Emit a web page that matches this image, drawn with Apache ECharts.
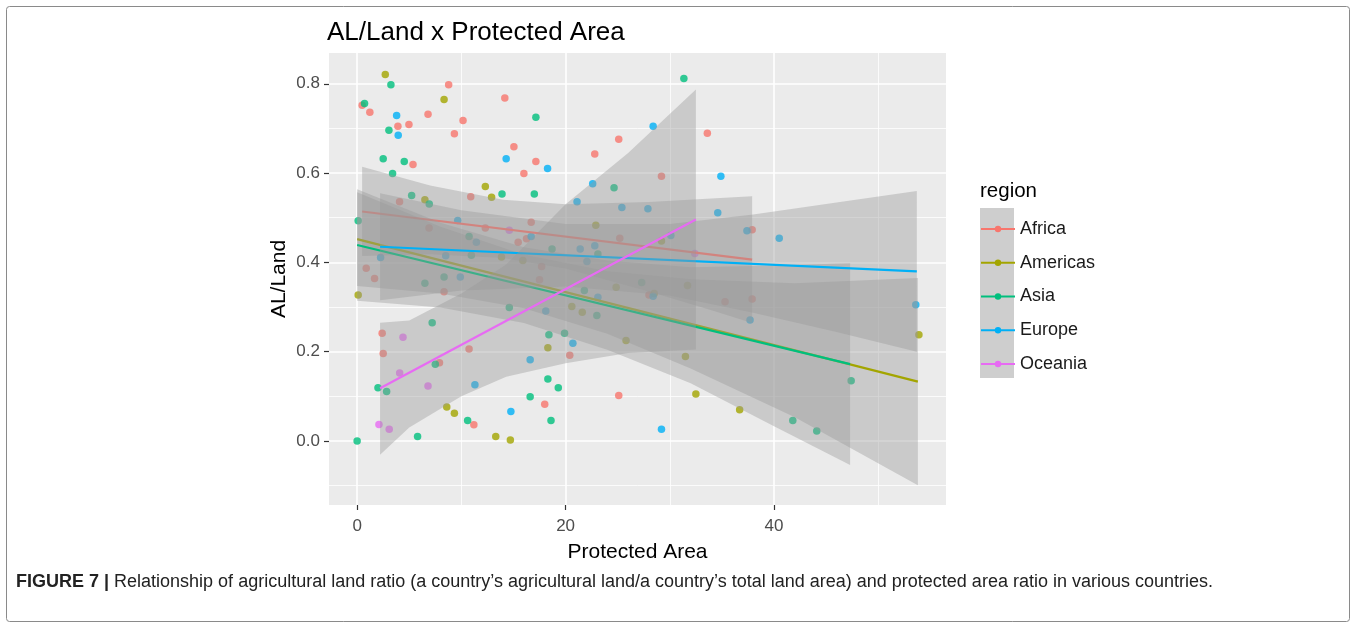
<!DOCTYPE html>
<html>
<head>
<meta charset="utf-8">
<script src="https://cdn.jsdelivr.net/npm/echarts@6/dist/echarts.min.js"></script>
<style>
  html, body { margin: 0; padding: 0; background: #fff; }
  #chart { width: 1357px; height: 629px; }
</style>
</head>
<body>
<div id="chart"></div>
<script>
// ---- data ----
const regions = ['Africa', 'Americas', 'Asia', 'Europe', 'Oceania'];
const colors = ['#F8766D', '#A3A500', '#00BF7D', '#00B0F6', '#E76BF3'];

const xMajor = [0, 20, 40];
const xMinor = [10, 30, 50];
const yMajor = [0, 0.2, 0.4, 0.6, 0.8];
const yMinor = [-0.1, 0.1, 0.3, 0.5, 0.7];

// [protected area, AL/land]
const africaPts = [[0.48,0.752],[1.22,0.736],[3.91,0.705],[4.97,0.709],[5.36,0.619],[4.07,0.536],[6.8,0.732],
  [8.78,0.798],[9.33,0.688],[10.16,0.718],[14.17,0.768],[15.04,0.659],[17.15,0.626],[16.0,0.599],[10.9,0.547],
  [22.8,0.643],[25.1,0.676],[6.9,0.477],[12.3,0.477],[16.7,0.49],[15.45,0.445],[16.25,0.453],[25.2,0.454],
  [0.87,0.387],[1.67,0.364],[8.34,0.334],[17.7,0.391],[17.5,0.361],[2.4,0.241],[2.5,0.196],[10.74,0.206],
  [7.9,0.175],[20.4,0.192],[18.0,0.082],[25.1,0.102],[11.2,0.036],[29.2,0.593],[37.9,0.473],[28.0,0.327],
  [35.3,0.312],[37.9,0.318],[33.6,0.689]];
const americasPts = [[2.7,0.821],[6.5,0.54],[8.34,0.765],[12.3,0.57],[12.9,0.546],[22.9,0.483],[13.85,0.412],
  [15.9,0.404],[0.1,0.327],[18.3,0.209],[20.6,0.301],[21.6,0.288],[24.85,0.344],[25.8,0.225],[8.6,0.076],
  [9.33,0.062],[13.3,0.01],[14.7,0.002],[29.2,0.448],[28.5,0.33],[31.7,0.348],[31.5,0.189],[32.5,0.105],
  [36.7,0.07],[53.9,0.238]];
const asiaPts = [[0.71,0.756],[3.24,0.798],[3.05,0.696],[2.5,0.632],[3.4,0.599],[4.52,0.626],[5.23,0.55],
  [6.92,0.531],[17.15,0.725],[13.9,0.553],[17.0,0.553],[24.65,0.567],[0.1,0.493],[10.74,0.458],[18.7,0.43],
  [23.1,0.419],[10.96,0.416],[6.5,0.353],[8.34,0.367],[14.6,0.299],[7.2,0.265],[18.4,0.238],[19.9,0.241],
  [7.5,0.172],[23.0,0.281],[21.8,0.337],[2.0,0.119],[2.83,0.111],[18.3,0.139],[19.3,0.119],[16.6,0.099],
  [10.6,0.046],[18.6,0.046],[5.8,0.01],[0,0],[31.35,0.812],[41.8,0.046],[44.1,0.022],[47.4,0.135],[27.3,0.355]];
const europePts = [[3.79,0.729],[3.94,0.685],[14.3,0.632],[18.27,0.61],[21.1,0.536],[22.6,0.576],[25.4,0.523],
  [9.65,0.494],[11.44,0.445],[16.7,0.458],[21.4,0.43],[22.8,0.437],[22.05,0.402],[2.25,0.411],[8.5,0.415],
  [9.9,0.367],[18.1,0.291],[16.6,0.182],[20.7,0.219],[23.1,0.322],[11.3,0.126],[14.75,0.066],[34.9,0.593],
  [27.9,0.52],[34.6,0.511],[37.4,0.471],[40.5,0.454],[30.1,0.46],[28.4,0.324],[37.7,0.271],[29.2,0.026],
  [53.6,0.305],[28.4,0.705]];
const oceaniaPts = [[14.6,0.472],[4.4,0.232],[4.08,0.152],[6.8,0.123],[2.09,0.037],[3.08,0.026],[32.4,0.42]];

// fitted lines (start, end)
const africaFit = [[0.48,0.514],[37.9,0.406]];
const americasFit = [[0,0.452],[53.8,0.133]];
const asiaFit = [[0,0.439],[47.3,0.172]];
const europeFit = [[2.2,0.435],[53.7,0.38]];
const oceaniaFit = [[2.2,0.118],[32.5,0.496]];

// confidence bands [x, lower, upper]
const africaBand = [[0.48,0.414,0.614],[7,0.418,0.572],[14,0.41,0.54],[20,0.386,0.53],[28,0.335,0.535],[34,0.293,0.543],[37.9,0.264,0.548]];
const americasBand = [[0,0.347,0.557],[8,0.33,0.48],[16,0.297,0.417],[24,0.24,0.38],[32,0.162,0.362],[42,0.053,0.353],[53.8,-0.099,0.365]];
const asiaBand = [[0,0.314,0.564],[8,0.299,0.489],[16,0.264,0.434],[24,0.204,0.404],[32,0.129,0.389],[40,0.033,0.393],[47.3,-0.054,0.398]];
const europeBand = [[2.2,0.315,0.555],[10,0.337,0.517],[20,0.346,0.486],[30,0.326,0.486],[38,0.287,0.507],[46,0.244,0.534],[53.7,0.2,0.56]];
const oceaniaBand = [[2.2,-0.031,0.265],[5,0.03,0.27],[10,0.1,0.33],[14.3,0.144,0.395],[20,0.174,0.53],[26,0.197,0.645],[32.5,0.205,0.787]];

const pts = [africaPts, americasPts, asiaPts, europePts, oceaniaPts];
const fits = [africaFit, americasFit, asiaFit, europeFit, oceaniaFit];
const bands = [africaBand, americasBand, asiaBand, europeBand, oceaniaBand];

const FONT = '"Liberation Sans", Arial, sans-serif';
const chart = echarts.init(document.getElementById('chart'));

function bandRender(band) {
  return function (params, api) {
    const up = band.map(p => api.coord([p[0], p[2]]));
    const lo = band.slice().reverse().map(p => api.coord([p[0], p[1]]));
    return {
      type: 'polygon',
      shape: { points: up.concat(lo) },
      style: { fill: 'rgba(153,153,153,0.4)' }
    };
  };
}

const series = [];
// lines first so the legend picks up the line icon
regions.forEach((r, i) => {
  series.push({
    name: r,
    type: 'line',
    data: fits[i],
    symbol: 'circle',
    showSymbol: false,
    z: 4 + i * 2,
    color: colors[i],
    lineStyle: { width: 2.2, color: colors[i] },
    silent: true,
    animation: false
  });
});
regions.forEach((r, i) => {
  series.push({
    name: r + ' band',
    type: 'custom',
    data: [[0, 0]],
    renderItem: bandRender(bands[i]),
    clip: true,
    z: 3 + i * 2,
    silent: true,
    animation: false
  });
  series.push({
    name: r,
    type: 'scatter',
    data: pts[i],
    symbolSize: 7.5,
    color: colors[i],
    z: 2,
    silent: true,
    animation: false
  });
});
// grid lines (kept under the points)
series.push({
  type: 'line',
  data: [],
  z: 1,
  silent: true,
  animation: false,
  markLine: {
    z: 1,
    silent: true,
    symbol: ['none', 'none'],
    label: { show: false },
    animation: false,
    data: [].concat(
      xMinor.map(v => ({ xAxis: v, lineStyle: { color: '#fff', width: 0.8, type: 'solid' } })),
      yMinor.map(v => ({ yAxis: v, lineStyle: { color: '#fff', width: 0.8, type: 'solid' } })),
      xMajor.map(v => ({ xAxis: v, lineStyle: { color: '#fff', width: 1.6, type: 'solid' } })),
      yMajor.map(v => ({ yAxis: v, lineStyle: { color: '#fff', width: 1.6, type: 'solid' } }))
    )
  }
});

const option = {
  backgroundColor: '#fff',
  animation: false,
  textStyle: { fontFamily: FONT },
  grid: {
    left: 329, right: 1357 - 946, top: 53, bottom: 629 - 505,
    show: true, backgroundColor: '#EBEBEB', borderWidth: 0
  },
  xAxis: {
    type: 'value', min: -2.7, max: 56.5,
    name: 'Protected Area', nameLocation: 'middle', nameGap: 37,
    nameTextStyle: { fontSize: 21, color: '#000', fontFamily: FONT },
    axisLine: { show: false, onZero: false },
    axisTick: { show: true, customValues: xMajor, length: 5, lineStyle: { color: '#333', width: 1.2 } },
    axisLabel: { customValues: xMajor, color: '#4D4D4D', fontSize: 17, margin: 13, fontFamily: FONT },
    splitLine: { show: false }
  },
  yAxis: {
    type: 'value', min: -0.1435, max: 0.869,
    name: 'AL/Land', nameLocation: 'middle', nameGap: 39, nameRotate: 90,
    nameTextStyle: { fontSize: 21, color: '#000', fontFamily: FONT },
    axisLine: { show: false, onZero: false },
    axisTick: { show: true, customValues: yMajor, length: 5, lineStyle: { color: '#333', width: 1.2 } },
    axisLabel: { customValues: yMajor, color: '#4D4D4D', fontSize: 17, margin: 9, fontFamily: FONT,
      formatter: v => v.toFixed(1) },
    splitLine: { show: false }
  },
  legend: {
    data: regions,
    orient: 'vertical',
    left: 980, top: 220,
    padding: 0,
    itemWidth: 34, itemHeight: 8, itemGap: 15.75,
    textStyle: { fontSize: 18, color: '#1a1a1a', lineHeight: 16, fontFamily: FONT },
    selectedMode: false
  },
  graphic: [
    { type: 'rect', silent: true, shape: { x: 6.5, y: 6.5, width: 1343, height: 615, r: 3 },
      style: { fill: 'none', stroke: '#8a8a8a', lineWidth: 1 } },
    { type: 'rect', silent: true, shape: { x: 980, y: 208, width: 34, height: 170 },
      style: { fill: '#CECECE' } },
    { type: 'text', silent: true, left: 327, top: 20,
      style: { text: 'AL/Land x Protected Area', fontSize: 26, fill: '#000', fontFamily: FONT } },
    { type: 'text', silent: true, left: 980, top: 181,
      style: { text: 'region', fontSize: 20.5, fill: '#000', fontFamily: FONT } },
    { type: 'text', silent: true, left: 16, top: 573,
      style: {
        text: '{b|FIGURE 7 |} Relationship of agricultural land ratio (a country\u2019s agricultural land/a country\u2019s total land area) and protected area ratio in various countries.',
        fontSize: 18, fill: '#222', fontFamily: FONT,
        rich: { b: { fontWeight: 'bold', fontSize: 18, fill: '#222', fontFamily: FONT } }
      } }
  ],
  series: series
};
chart.setOption(option);
</script>
</body>
</html>
